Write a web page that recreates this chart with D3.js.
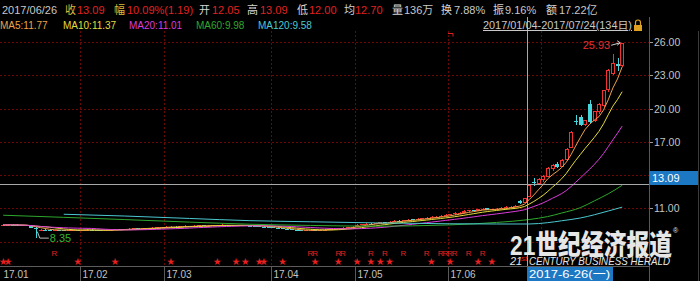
<!DOCTYPE html>
<html>
<head>
<meta charset="utf-8">
<script src="https://cdn.jsdelivr.net/npm/d3@7"></script>
<style>
    html, body { margin: 0; padding: 0; background: #000; }
    #chart { width: 700px; height: 281px; }
    text { font-family: "Liberation Sans", Arial, "Noto Sans CJK SC", sans-serif; }
</style>
</head>
<body>
<div id="chart"></div>
<script>
// daily candles 2017/01/04 - 2017/07/24 (134 trading days)
const opens = [
    9.45, 9.48, 9.53, 9.50, 9.47, 9.45, 9.40, 9.24, 9.02, 9.08,
    9.06, 9.02, 9.05, 9.00, 8.98, 9.03, 9.05, 9.02, 9.05, 9.08,
    9.03, 9.00, 8.98, 9.02, 9.05, 9.10, 9.08, 9.12, 9.15, 9.18,
    9.14, 9.20, 9.22, 9.25, 9.28, 9.30, 9.32, 9.35, 9.30, 9.36,
    9.40, 9.38, 9.42, 9.45, 9.40, 9.43, 9.48, 9.45, 9.50, 9.46,
    9.42, 9.45, 9.48, 9.44, 9.40, 9.38, 9.35, 9.32, 9.30, 9.25,
    9.20, 9.15, 9.10, 9.05, 9.00, 8.98, 9.02, 9.05, 9.00, 9.04,
    9.08, 9.10, 9.15, 9.20, 9.25, 9.30, 9.35, 9.48, 9.55, 9.62,
    9.58, 9.66, 9.74, 9.70, 9.80, 9.88, 9.84, 9.92, 10.00, 9.95,
    10.05, 10.12, 10.12, 10.20, 10.25, 10.30, 10.40, 10.45, 10.58, 10.60,
    10.72, 10.82, 10.78, 10.90, 10.98, 10.85, 10.90, 10.95, 11.05, 11.10,
    11.15, 11.62, 11.50, 12.05, 13.40, 13.25, 13.55, 13.85, 14.55, 15.00,
    14.80, 15.40, 16.50, 18.90, 19.20, 18.60, 20.45, 18.90, 19.70, 20.30,
    21.70, 23.20, 24.00, 23.90
];
const highs = [
    9.55, 9.58, 9.58, 9.55, 9.52, 9.48, 9.42, 9.30, 9.12, 9.12,
    9.10, 9.08, 9.08, 9.04, 9.06, 9.08, 9.08, 9.08, 9.12, 9.10,
    9.05, 9.03, 9.05, 9.08, 9.14, 9.13, 9.15, 9.18, 9.22, 9.20,
    9.24, 9.26, 9.30, 9.32, 9.34, 9.36, 9.40, 9.37, 9.40, 9.45,
    9.43, 9.46, 9.50, 9.47, 9.46, 9.52, 9.50, 9.55, 9.52, 9.48,
    9.48, 9.52, 9.50, 9.46, 9.42, 9.40, 9.38, 9.35, 9.32, 9.28,
    9.24, 9.18, 9.13, 9.08, 9.04, 9.06, 9.09, 9.07, 9.08, 9.12,
    9.14, 9.19, 9.24, 9.28, 9.34, 9.40, 9.55, 9.60, 9.66, 9.65,
    9.70, 9.78, 9.76, 9.85, 9.92, 9.90, 9.98, 10.05, 10.02, 10.10,
    10.16, 10.18, 10.26, 10.32, 10.35, 10.45, 10.52, 10.62, 10.66, 10.80,
    10.88, 10.86, 10.96, 11.02, 11.02, 10.95, 11.00, 11.12, 11.16, 11.22,
    11.30, 11.75, 11.95, 13.09, 13.75, 13.70, 14.00, 14.70, 15.00, 15.20,
    15.40, 16.40, 18.00, 19.40, 19.40, 19.00, 20.80, 19.80, 20.50, 21.70,
    23.60, 24.90, 24.60, 25.93
];
const lows = [
    9.40, 9.44, 9.45, 9.42, 9.40, 9.36, 9.20, 8.35, 8.98, 9.00,
    8.98, 8.98, 8.96, 8.94, 8.96, 9.00, 8.99, 9.00, 9.03, 9.00,
    8.96, 8.94, 8.96, 9.00, 9.03, 9.04, 9.06, 9.10, 9.13, 9.10,
    9.12, 9.17, 9.20, 9.22, 9.25, 9.27, 9.30, 9.26, 9.28, 9.34,
    9.34, 9.36, 9.40, 9.36, 9.38, 9.41, 9.42, 9.43, 9.42, 9.38,
    9.40, 9.43, 9.40, 9.36, 9.34, 9.31, 9.28, 9.26, 9.20, 9.16,
    9.12, 9.06, 9.00, 8.95, 8.92, 8.96, 9.00, 8.96, 8.98, 9.02,
    9.05, 9.08, 9.13, 9.18, 9.22, 9.28, 9.33, 9.45, 9.52, 9.52,
    9.55, 9.63, 9.65, 9.68, 9.78, 9.80, 9.82, 9.90, 9.90, 9.93,
    10.02, 10.06, 10.10, 10.18, 10.22, 10.28, 10.35, 10.42, 10.52, 10.58,
    10.70, 10.72, 10.76, 10.86, 10.80, 10.82, 10.86, 10.92, 11.00, 11.06,
    11.12, 11.40, 11.45, 12.00, 13.05, 13.15, 13.40, 13.80, 14.40, 14.60,
    14.70, 15.30, 16.40, 18.50, 18.40, 18.40, 18.60, 18.80, 19.50, 20.10,
    21.50, 23.00, 23.40, 23.70
];
const closes = [
    9.48, 9.52, 9.50, 9.46, 9.44, 9.40, 9.25, 9.10, 9.08, 9.06,
    9.02, 9.05, 9.00, 8.98, 9.03, 9.05, 9.02, 9.05, 9.08, 9.03,
    9.00, 8.98, 9.02, 9.05, 9.10, 9.08, 9.12, 9.15, 9.18, 9.14,
    9.20, 9.22, 9.25, 9.28, 9.30, 9.32, 9.35, 9.30, 9.36, 9.40,
    9.38, 9.42, 9.45, 9.40, 9.43, 9.48, 9.45, 9.50, 9.46, 9.42,
    9.45, 9.48, 9.44, 9.40, 9.38, 9.35, 9.32, 9.30, 9.25, 9.20,
    9.15, 9.10, 9.05, 9.00, 8.98, 9.02, 9.05, 9.00, 9.04, 9.08,
    9.10, 9.15, 9.20, 9.25, 9.30, 9.35, 9.48, 9.55, 9.60, 9.58,
    9.66, 9.72, 9.70, 9.80, 9.86, 9.84, 9.92, 9.98, 9.95, 10.05,
    10.10, 10.12, 10.20, 10.25, 10.30, 10.38, 10.45, 10.55, 10.60, 10.72,
    10.80, 10.78, 10.90, 10.95, 10.85, 10.90, 10.95, 11.05, 11.10, 11.15,
    11.21, 11.50, 11.90, 13.09, 13.25, 13.55, 13.85, 14.55, 14.90, 14.75,
    15.30, 16.30, 17.85, 18.85, 18.55, 18.90, 18.75, 19.70, 20.40, 21.60,
    23.45, 24.10, 23.80, 25.90
];

const ma60Points = [
    [0, 10.37], [13, 10.18], [26, 9.98], [40, 9.75], [53, 9.56], [66, 9.45], [80, 9.38],
    [96, 9.50], [106, 9.72], [113, 9.98], [117, 10.25], [120, 10.57], [124, 11.05],
    [127, 11.66], [130, 12.30], [133, 13.07]
];
const ma120Points = [
    [13, 10.46], [26, 10.30], [40, 10.08], [53, 9.88], [66, 9.78], [80, 9.68], [96, 9.60],
    [106, 9.58], [113, 9.58], [117, 9.70], [120, 9.87], [124, 10.12], [127, 10.41],
    [130, 10.75], [133, 11.10]
];

const maNames = ['MA5', 'MA10', 'MA20', 'MA60', 'MA120'];
const maValues = ['11.77', '11.37', '11.01', '9.98', '9.58'];
const maColors = ['#eea24a', '#e4dc3c', '#dc3cdc', '#2ea82e', '#4cc8d0'];

const monthLabels = ['17.01', '17.02', '17.03', '17.04', '17.05', '17.06', '17.07'];
const monthStarts = [0, 17, 35, 58, 76, 96, 116];

const yTicks = [8, 11, 14, 17, 20, 23, 26];

const starDays = [0, 1, 16, 24, 36, 46, 50, 52, 55, 56, 60, 67, 72, 76, 79, 81, 83, 92, 96, 102, 105];
const rDays = [11, 66, 67, 72, 73, 79, 82, 86, 91, 94, 95, 96, 97, 100, 103, 125, 128, 130];

const headerLabels = ['收', '幅', '开', '高', '低', '均', '量', '换', '振', '额'];
const headerValues = ['13.09', '10.09%(1.19)', '12.05', '13.09', '12.00', '12.70', '136万', '7.88%', '9.16%', '17.22亿'];

const cursorIndex = 113;
const cursorDate = '2017-6-26(一)';
const cursorClose = 13.09;

const UP = '#f03232';
const DOWN = '#46d6de';
const GRID = '#6a0606';

const svg = d3.select('#chart').append('svg')
    .attr('width', 700)
    .attr('height', 281)
    .style('display', 'block');

svg.append('rect').attr('width', 700).attr('height', 281).attr('fill', '#000');

const xScale = d3.scaleBand()
    .domain(d3.range(closes.length))
    .range([0.9, 624.5])
    .paddingInner(0.25)
    .paddingOuter(0.125);
const step = xScale.step();
const cx = i => xScale(i) + xScale.bandwidth() / 2;
const sepX = i => Math.round(xScale(i) - step * 0.125) + 0.5;

const yScale = d3.scaleLinear()
    .domain([8, 26])
    .range([241.5, 42]);

// grid
svg.append('g').selectAll('line')
    .data(yTicks)
    .join('line')
    .attr('x1', 0).attr('x2', 649)
    .attr('y1', d => Math.round(yScale(d)) + 0.5)
    .attr('y2', d => Math.round(yScale(d)) + 0.5)
    .attr('stroke', GRID)
    .attr('stroke-dasharray', '2,2');

const months = monthStarts.map((s, k) => ({ s, label: monthLabels[k] })).filter(d => d.s > 0);
svg.append('g').selectAll('line')
    .data(months)
    .join('line')
    .attr('x1', d => sepX(d.s)).attr('x2', d => sepX(d.s))
    .attr('y1', 31).attr('y2', 266)
    .attr('stroke', GRID)
    .attr('stroke-dasharray', '2,2');
svg.append('g').selectAll('line')
    .data(months)
    .join('line')
    .attr('x1', d => sepX(d.s)).attr('x2', d => sepX(d.s))
    .attr('y1', 266).attr('y2', 281)
    .attr('stroke', '#5a5a5a');

// bottom axis
svg.append('line')
    .attr('x1', 0).attr('x2', 649).attr('y1', 266.5).attr('y2', 266.5)
    .attr('stroke', '#5c5c5c');
svg.append('g').selectAll('text')
    .data(monthStarts.map((s, k) => ({ s, label: monthLabels[k] })).filter(d => d.s < 116))
    .join('text')
    .attr('x', d => sepX(d.s) + 2)
    .attr('y', 278)
    .attr('fill', '#c4c4c4')
    .attr('font-size', 10)
    .text(d => d.label);

// right axis
svg.append('line')
    .attr('x1', 649.5).attr('x2', 649.5).attr('y1', 17).attr('y2', 281)
    .attr('stroke', '#585858');
svg.append('line')
    .attr('x1', 698.5).attr('x2', 698.5).attr('y1', 31).attr('y2', 281)
    .attr('stroke', '#3a3a3a');
const yLabelTicks = yTicks.filter(d => d >= 11);
svg.append('g').selectAll('line')
    .data(yLabelTicks)
    .join('line')
    .attr('x1', 650).attr('x2', 653)
    .attr('y1', d => Math.round(yScale(d)) + 0.5)
    .attr('y2', d => Math.round(yScale(d)) + 0.5)
    .attr('stroke', '#9a9a9a');
svg.append('g').selectAll('text')
    .data(yLabelTicks)
    .join('text')
    .attr('x', 654)
    .attr('y', d => yScale(d) + 4)
    .attr('fill', '#c4c4c4')
    .attr('font-size', 10.5)
    .text(d => d.toFixed(2));

// candles
const candles = closes.map((c, i) => ({ i, o: opens[i], h: highs[i], l: lows[i], c }));
const cg = svg.append('g').attr('shape-rendering', 'crispEdges');

candles.forEach(d => {
    const left = Math.round(xScale(d.i));
    const mid = left + 2;
    const isUp = d.c >= d.o;
    const col = isUp ? UP : DOWN;
    const top = yScale(Math.max(d.o, d.c));
    const bot = yScale(Math.min(d.o, d.c));
    const bodyH = Math.max(1, bot - top);

    if (isUp) {
        cg.append('line').attr('x1', mid).attr('x2', mid)
            .attr('y1', yScale(d.h)).attr('y2', top).attr('stroke', col);
        cg.append('line').attr('x1', mid).attr('x2', mid)
            .attr('y1', top + bodyH).attr('y2', yScale(d.l)).attr('stroke', col);
        if (bodyH > 2) {
            cg.append('rect')
                .attr('x', left + 0.5).attr('y', top)
                .attr('width', 3).attr('height', bodyH)
                .attr('fill', '#000').attr('stroke', col);
        } else {
            cg.append('rect')
                .attr('x', left).attr('y', top)
                .attr('width', 4).attr('height', Math.max(1, bodyH))
                .attr('fill', col);
        }
    } else {
        cg.append('line').attr('x1', mid).attr('x2', mid)
            .attr('y1', yScale(d.h)).attr('y2', yScale(d.l)).attr('stroke', col);
        cg.append('rect')
            .attr('x', left).attr('y', top)
            .attr('width', 4).attr('height', bodyH)
            .attr('fill', col);
    }
});

// moving averages
function movingAverage(values, n) {
    return values.map((v, i) => ({ i, v: d3.mean(values.slice(Math.max(0, i - n + 1), i + 1)) }));
}
const shortLine = d3.line().x(d => cx(d.i)).y(d => yScale(d.v));
const longLine = d3.line().x(d => cx(d.i)).y(d => yScale(d.v)).curve(d3.curveMonotoneX);
const maSeries = [
    movingAverage(closes, 5),
    movingAverage(closes, 10),
    movingAverage(closes, 20),
    ma60Points.map(p => ({ i: p[0], v: p[1] })),
    ma120Points.map(p => ({ i: p[0], v: p[1] }))
];
maSeries.forEach((series, k) => {
    svg.append('path')
        .datum(series)
        .attr('fill', 'none')
        .attr('stroke', maColors[k])
        .attr('stroke-width', 1)
        .attr('d', k >= 3 ? longLine : shortLine);
});

// high / low annotations
const hiIdx = d3.maxIndex(highs);
const loIdx = d3.minIndex(lows);
const hx = cx(hiIdx), hy = yScale(highs[hiIdx]);
svg.append('text')
    .attr('x', hx - 12).attr('y', hy + 6.5)
    .attr('text-anchor', 'end')
    .attr('fill', '#e43030')
    .attr('font-size', 11)
    .text(highs[hiIdx].toFixed(2));
svg.append('path')
    .attr('d', `M${hx - 11},${hy + 2.5}L${hx - 2},${hy}`)
    .attr('stroke', '#cfcfcf').attr('fill', 'none');
svg.append('path')
    .attr('d', `M${hx - 5},${hy - 2}L${hx - 2},${hy}L${hx - 5},${hy + 2.5}`)
    .attr('stroke', '#cfcfcf').attr('fill', 'none');

const lx = cx(loIdx), ly = yScale(lows[loIdx]);
svg.append('path')
    .attr('d', `M${lx + 1.5},${ly - 6}L${lx + 4},${ly + 0.5}L${lx + 13},${ly + 0.5}`)
    .attr('stroke', '#bdbdbd').attr('fill', 'none');
svg.append('text')
    .attr('x', lx + 14).attr('y', ly + 4.5)
    .attr('fill', '#34b434')
    .attr('font-size', 11)
    .text(lows[loIdx].toFixed(2));

// small info flag at top of June
svg.append('path')
    .attr('d', `M${cx(96) - 2},33.5h5v3`)
    .attr('stroke', '#e02020').attr('fill', 'none');

// event markers
svg.append('g').selectAll('text')
    .data(rDays)
    .join('text')
    .attr('x', d => cx(d))
    .attr('y', 255.5)
    .attr('text-anchor', 'middle')
    .attr('fill', '#e02424')
    .attr('font-size', 8)
    .text('R');
svg.append('g').selectAll('text')
    .data(starDays)
    .join('text')
    .attr('x', d => cx(d))
    .attr('y', 264)
    .attr('text-anchor', 'middle')
    .attr('fill', '#e82020')
    .attr('font-family', 'DejaVu Sans')
    .attr('font-size', 8)
    .text('★');

// crosshair
const chx = Math.round(cx(cursorIndex)) - 1.5;
const chy = Math.round(yScale(cursorClose)) - 0.5;
svg.append('line')
    .attr('x1', chx).attr('x2', chx).attr('y1', 17).attr('y2', 266)
    .attr('stroke', '#a8a8a8');
svg.append('line')
    .attr('x1', 0).attr('x2', 649).attr('y1', chy).attr('y2', chy)
    .attr('stroke', '#a8a8a8');

svg.append('rect')
    .attr('x', 649).attr('y', chy - 13.5)
    .attr('width', 49).attr('height', 14)
    .attr('fill', '#1d78c4');
svg.append('text')
    .attr('x', 652).attr('y', chy - 2.5)
    .attr('fill', '#fff')
    .attr('font-size', 11)
    .text(cursorClose.toFixed(2));

// watermark
svg.append('text')
    .attr('x', 510).attr('y', 255)
    .attr('fill', '#e6e6e6')
    .attr('font-family', '"Noto Sans CJK SC"')
    .attr('font-weight', 900)
    .attr('font-size', 28)
    .attr('textLength', 162)
    .attr('lengthAdjust', 'spacingAndGlyphs')
    .text('21世纪经济报道');
svg.append('text')
    .attr('x', 673).attr('y', 233)
    .attr('fill', '#e6e6e6')
    .attr('font-size', 7)
    .text('®');
svg.append('text')
    .attr('x', 510).attr('y', 265)
    .attr('fill', '#e6e6e6')
    .attr('font-style', 'italic')
    .attr('font-size', 11)
    .text('21');
svg.append('text')
    .attr('x', 521).attr('y', 261)
    .attr('fill', '#e02020')
    .attr('font-style', 'italic')
    .attr('font-size', 8)
    .text('st');
svg.append('text')
    .attr('x', 529).attr('y', 265)
    .attr('fill', '#e6e6e6')
    .attr('font-style', 'italic')
    .attr('font-size', 11)
    .attr('textLength', 141)
    .attr('lengthAdjust', 'spacingAndGlyphs')
    .text('CENTURY BUSINESS HERALD');

// cursor date box
svg.append('rect')
    .attr('x', chx - 0.5).attr('y', 267)
    .attr('width', 86).attr('height', 14)
    .attr('fill', '#1d78c4');
svg.append('text')
    .attr('x', chx + 1.5).attr('y', 278)
    .attr('fill', '#fff')
    .attr('font-size', 11.5)
    .attr('textLength', 81)
    .attr('lengthAdjust', 'spacingAndGlyphs')
    .text(cursorDate);

// header row 1
svg.append('text')
    .attr('x', 2).attr('y', 14)
    .attr('fill', '#c8c8c8')
    .attr('font-size', 11)
    .text('2017/06/26');
const labelX = [65, 114, 199, 247, 297, 344, 392, 441, 493, 546];
const valueX = [77, 127, 212, 260, 309, 355, 404, 454, 505, 559];
const labelCols = ['#d8bc3c', '#d8bc3c', '#d4d4d4', '#d4d4d4', '#d4d4d4', '#d4d4d4', '#d4d4d4', '#d4d4d4', '#d4d4d4', '#d4d4d4'];
headerLabels.forEach((lab, k) => {
    svg.append('text')
        .attr('x', labelX[k]).attr('y', 14)
        .attr('fill', labelCols[k])
        .attr('font-family', '"Noto Sans CJK SC"')
        .attr('font-size', 11)
        .text(lab);
    svg.append('text')
        .attr('x', valueX[k]).attr('y', 14)
        .attr('fill', k < 6 ? '#e02222' : '#c8c8c8')
        .attr('font-size', 11)
        .text(headerValues[k]);
});

// header row 2: MA values
const maX = [0, 63, 129, 196, 258];
maNames.forEach((n, k) => {
    svg.append('text')
        .attr('x', maX[k]).attr('y', 29)
        .attr('fill', maColors[k])
        .attr('font-size', 10)
        .text(`${n}:${maValues[k]}`);
});

svg.append('text')
    .attr('x', 483).attr('y', 29)
    .attr('fill', '#c8c8c8')
    .attr('font-size', 10)
    .attr('text-decoration', 'underline')
    .attr('textLength', 149)
    .attr('lengthAdjust', 'spacingAndGlyphs')
    .text('2017/01/04-2017/07/24(134日)');

// lock icon
svg.append('path')
    .attr('d', 'M635.5,25V22.5a2.5,2.5 0 0 1 5,0V25')
    .attr('stroke', '#e0a020').attr('fill', 'none').attr('stroke-width', 1.2);
svg.append('rect')
    .attr('x', 634).attr('y', 25).attr('width', 8).attr('height', 6)
    .attr('fill', '#e0a020');
</script>
</body>
</html>
